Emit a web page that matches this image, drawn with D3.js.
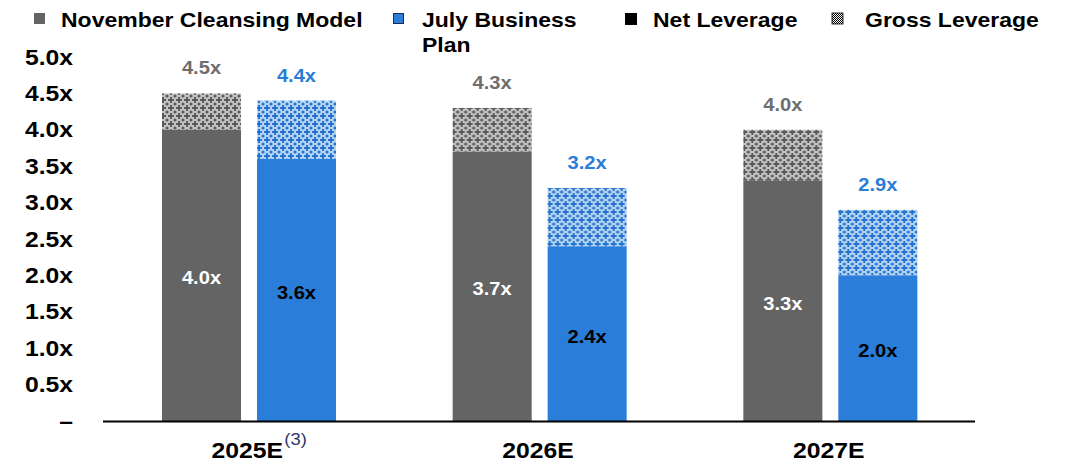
<!DOCTYPE html>
<html>
<head>
<meta charset="utf-8">
<script src="https://cdn.jsdelivr.net/npm/d3@7"></script>
<style>
  html, body { margin: 0; padding: 0; background: #fff; }
  svg { display: block; font-family: "Liberation Sans", Arial, sans-serif; }
</style>
</head>
<body>
<svg id="chart" width="1084" height="465"></svg>
<script>
// Leverage by year: net leverage (solid) and gross leverage (patterned top)
const years = ["2025E", "2026E", "2027E"];
const yearNotes = ["(3)", "", ""];
const seriesNames = ["November Cleansing Model", "July Business Plan"];
const netNovember = [4.0, 3.7, 3.3];
const grossNovember = [4.5, 4.3, 4.0];
const netJuly = [3.6, 2.4, 2.0];
const grossJuly = [4.4, 3.2, 2.9];
const yTicks = [0, 0.5, 1.0, 1.5, 2.0, 2.5, 3.0, 3.5, 4.0, 4.5, 5.0];

const colors = { nov: "#646464", july: "#2a7dd8" };
const SX = 1.15; // horizontal stretch applied to all text

const svg = d3.select("#chart");
const defs = svg.append("defs");

// Diamond/cross textured fill for the gross leverage part
function makePattern(id, dark, light) {
  const p = defs.append("pattern").attr("id", id)
    .attr("patternUnits", "userSpaceOnUse").attr("width", 8).attr("height", 8);
  p.append("rect").attr("width", 8).attr("height", 8).attr("fill", light);
  p.append("rect").attr("x", 3).attr("y", 1).attr("width", 2).attr("height", 6).attr("fill", dark);
  p.append("rect").attr("x", 1).attr("y", 3).attr("width", 6).attr("height", 2).attr("fill", dark);
  [[0,0],[8,0],[0,8],[8,8]].forEach(([cx, cy]) =>
    p.append("circle").attr("cx", cx).attr("cy", cy).attr("r", 1.6).attr("fill", dark));
}
makePattern("grossNov", "#5a5a5a", "#c4c4c4");
makePattern("grossJuly", "#2574cf", "#b6d5f3");

// Small checker for the legend swatch
const chk = defs.append("pattern").attr("id", "legendChk")
  .attr("patternUnits", "userSpaceOnUse").attr("width", 2).attr("height", 2);
chk.append("rect").attr("width", 2).attr("height", 2).attr("fill", "#fff");
chk.append("rect").attr("width", 1).attr("height", 1).attr("fill", "#000");
chk.append("rect").attr("x", 1).attr("y", 1).attr("width", 1).attr("height", 1).attr("fill", "#000");

// Scales
const y = d3.scaleLinear().domain([0, 5]).range([421, 57]);
const x0 = d3.scaleBand().domain(years).range([103, 975]).padding(0);
const x1 = d3.scaleBand().domain(["nov", "july"]).range([59, 233]).paddingInner(0.168).paddingOuter(0);

// Text helper with horizontal stretch
function stext(g, tx, ty, str, opts) {
  return g.append("text")
    .attr("transform", `translate(${tx},${ty}) scale(${SX},1)`)
    .attr("text-anchor", opts.anchor || "middle")
    .attr("font-size", opts.size)
    .attr("font-weight", opts.weight || "bold")
    .attr("fill", opts.fill || "#000")
    .text(str);
}

// Y axis labels
const yAxis = svg.append("g");
yTicks.forEach(t => {
  stext(yAxis, 73, y(t) + 7.5, t === 0 ? "–" : d3.format(".1f")(t) + "x", { anchor: "end", size: 21.5 });
});

// Bars
const rows = years.map((yr, i) => ({
  year: yr,
  bars: [
    { key: "nov", net: netNovember[i], gross: grossNovember[i] },
    { key: "july", net: netJuly[i], gross: grossJuly[i] }
  ]
}));

const groups = svg.append("g").selectAll("g").data(rows).join("g")
  .attr("transform", d => `translate(${x0(d.year)},0)`);

groups.each(function(d) {
  const g = d3.select(this);
  d.bars.forEach(b => {
    const bx = x1(b.key), bw = x1.bandwidth();
    // gross (patterned) segment
    g.append("rect").attr("x", bx).attr("width", bw)
      .attr("y", y(b.gross)).attr("height", y(b.net) - y(b.gross))
      .attr("fill", b.key === "nov" ? "url(#grossNov)" : "url(#grossJuly)");
    // net (solid) segment
    g.append("rect").attr("x", bx).attr("width", bw)
      .attr("y", y(b.net)).attr("height", y(0) - y(b.net))
      .attr("fill", colors[b.key]);
    // gross value above
    stext(g, bx + bw / 2, y(b.gross) - 19, d3.format(".1f")(b.gross) + "x",
      { size: 17.5, fill: b.key === "nov" ? "#6e6e6e" : "#2a7dd8" });
    // net value inside
    stext(g, bx + bw / 2, (y(b.net) + y(0)) / 2 + 9, d3.format(".1f")(b.net) + "x",
      { size: 17.5, fill: b.key === "nov" ? "#fff" : "#000" });
  });
});

// Baseline
svg.append("line").attr("x1", 103).attr("x2", 975).attr("y1", y(0) + 0.5).attr("y2", y(0) + 0.5)
  .attr("stroke", "#000").attr("stroke-width", 2);

// X axis labels
years.forEach((yr, i) => {
  const cx = x0(yr) + x0.bandwidth() / 2;
  stext(svg, cx - 1, 458, yr, { size: 21.5 });
  if (yearNotes[i]) {
    stext(svg, cx + 36, 445, yearNotes[i], { anchor: "start", size: 16, weight: "normal", fill: "#2e3568" });
  }
});

// Legend
const leg = svg.append("g");
leg.append("rect").attr("x", 34).attr("y", 13).attr("width", 11).attr("height", 11).attr("fill", colors.nov);
stext(leg, 61, 27, seriesNames[0], { anchor: "start", size: 20 });
leg.append("rect").attr("x", 393.5).attr("y", 13.5).attr("width", 10).attr("height", 10)
  .attr("fill", colors.july).attr("stroke", "#1a2a55").attr("stroke-width", 1);
stext(leg, 422, 27, "July Business", { anchor: "start", size: 20 });
stext(leg, 422, 52, "Plan", { anchor: "start", size: 20 });
leg.append("rect").attr("x", 625).attr("y", 13).attr("width", 12).attr("height", 12).attr("fill", "#000");
stext(leg, 653, 27, "Net Leverage", { anchor: "start", size: 20 });
leg.append("rect").attr("x", 832).attr("y", 13).attr("width", 11).attr("height", 11)
  .attr("fill", "url(#legendChk)").attr("stroke", "#000").attr("stroke-width", 0.8);
stext(leg, 865, 27, "Gross Leverage", { anchor: "start", size: 20 });
</script>
</body>
</html>
